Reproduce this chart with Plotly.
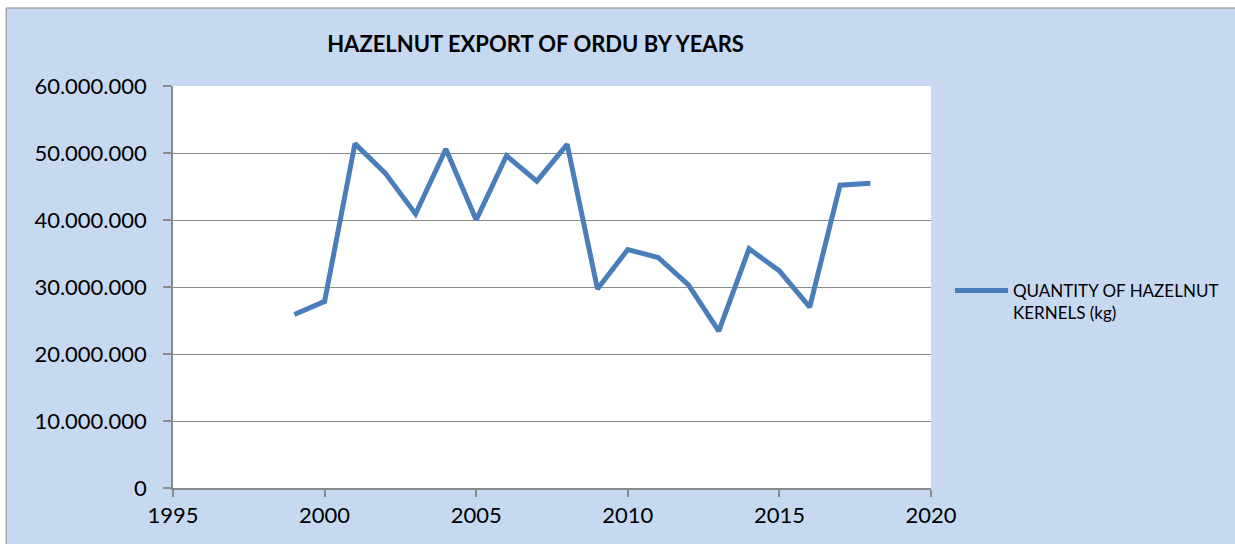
import plotly.graph_objects as go

years = [1999, 2000, 2001, 2002, 2003, 2004, 2005, 2006, 2007, 2008,
         2009, 2010, 2011, 2012, 2013, 2014, 2015, 2016, 2017, 2018]
quantity_kg = [25900000, 27850000, 51400000, 47000000, 40900000, 50600000,
               40000000, 49600000, 45800000, 51300000, 29700000, 35600000,
               34400000, 30300000, 23400000, 35700000, 32400000, 27000000,
               45200000, 45500000]
series_name = "QUANTITY OF HAZELNUT<br>KERNELS (kg)"
title_text = "HAZELNUT EXPORT OF ORDU BY YEARS"
x_ticks = [1995, 2000, 2005, 2010, 2015, 2020]
y_ticks = [0, 10000000, 20000000, 30000000, 40000000, 50000000, 60000000]

W, H = 1235, 544
L, R, T, B = 173, 303, 86, 56
pw, ph = W - L - R, H - T - B

def px_x(p):
    return (p - L) / pw

def px_y(p):
    return (H - B - p) / ph

BLUE_BG = "#C6D9F0"
GRID = "#8A8A8A"
FONT = "Lato"

fig = go.Figure()
fig.add_trace(go.Scatter(
    x=years, y=quantity_kg, mode="lines", name=series_name,
    line=dict(color="#4A7EBB", width=5), showlegend=True,
))

fig.update_layout(
    width=W, height=H,
    margin=dict(l=L, r=R, t=T, b=B),
    paper_bgcolor=BLUE_BG, plot_bgcolor="white",
    separators=",.",
    font=dict(family=FONT, color="black"),
    title=dict(text="<b>" + title_text + "</b>", x=px_x(536), xref="paper", xanchor="center",
               y=1 - 44 / H, yref="container", yanchor="middle",
               font=dict(family=FONT, size=22, color="black")),
    xaxis=dict(range=[1995, 2020], tickvals=x_ticks, showgrid=False, zeroline=False,
               showline=True, linecolor=GRID, linewidth=1.5,
               ticks="outside", ticklen=7, tickcolor=GRID, tickwidth=1.5,
               tickfont=dict(family=FONT, size=22, color="black")),
    yaxis=dict(range=[0, 60000000], tickvals=y_ticks, tickformat=",d",
               showgrid=True, gridcolor=GRID, gridwidth=1.3, zeroline=False,
               showline=True, linecolor=GRID, linewidth=1.5,
               ticks="outside", ticklen=8, tickcolor=GRID, tickwidth=1.5,
               ticklabelstandoff=12,
               tickfont=dict(family=FONT, size=22, color="black")),
    legend=dict(x=px_x(950), y=px_y(273), xanchor="left", yanchor="top",
                bgcolor="rgba(0,0,0,0)", itemwidth=53, valign="top",
                font=dict(family=FONT, size=17, color="black")),
    shapes=[
        dict(type="rect", xref="paper", yref="paper", x0=px_x(-5), x1=px_x(W + 5),
             y0=px_y(8), y1=px_y(-5), fillcolor="white", line=dict(width=0), layer="above"),
        dict(type="rect", xref="paper", yref="paper", x0=px_x(-5), x1=px_x(6),
             y0=px_y(H + 5), y1=px_y(-5), fillcolor="white", line=dict(width=0), layer="above"),
        dict(type="line", xref="paper", yref="paper", x0=px_x(6), x1=px_x(W + 5),
             y0=px_y(8), y1=px_y(8), line=dict(color="#A6A6A6", width=1.5)),
        dict(type="line", xref="paper", yref="paper", x0=px_x(6), x1=px_x(6),
             y0=px_y(8), y1=px_y(H + 5), line=dict(color="#A6A6A6", width=1.5)),
    ],
)

fig.write_html("out.html", config={"displayModeBar": False},
               post_script="document.body.style.margin='0';document.body.style.overflow='hidden';")
